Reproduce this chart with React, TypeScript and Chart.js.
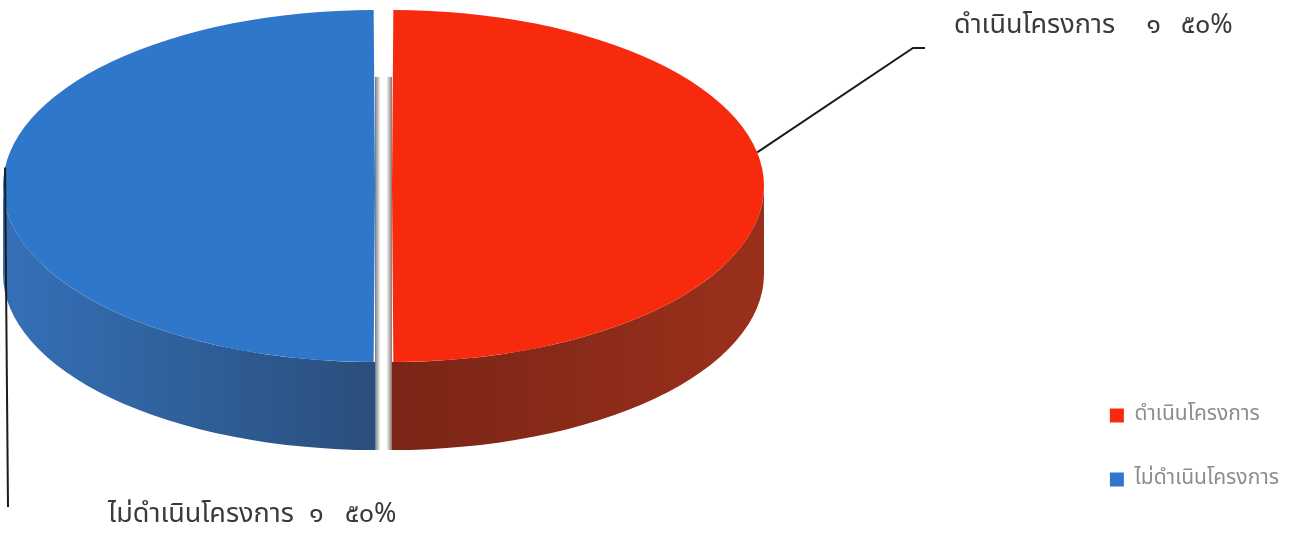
import React, { useEffect, useRef } from 'react';
import { Chart, registerables } from 'chart.js';

Chart.register(...registerables);

// ---- data ----
const categories = ['ดำเนินโครงการ', 'ไม่ดำเนินโครงการ'];
const projectCounts = [1, 1];

// ---- styles ----
const topColors = ['#F72A0D', '#2E77CA'];
const sideNearColors = ['#7A2516', '#2A4E7C'];
const sideFarColors = ['#9A301B', '#3570B8'];
const THAI_DIGITS = ['๐', '๑', '๒', '๓', '๔', '๕', '๖', '๗', '๘', '๙'];
const toThai = (n: number) => String(n).replace(/[0-9]/g, (d) => THAI_DIGITS[+d]);
const FONT = '"Noto Sans Thai", "Noto Sans Thai UI", Loma, Garuda, Sarabun, "DejaVu Sans", sans-serif';

// geometry of the tilted pie (px)
const PIE = { cx: 383.5, cy: 186, rx: 372, ry: 176, depth: 88, explode: 8.5 };

// outside label layout: anchor angle on the slice rim, leader bend points, text origin
const LABEL_LAYOUT = [
  { angle: -11, leader: [[913, 48], [925, 48]], textX: 954, textY: 28, gap1: 31, gap2: 20 },
  { angle: 186, leader: [[8, 507]], textX: 108, textY: 517, gap1: 15, gap2: 21 },
];

function sliceGeom(arc: any) {
  const p = arc.getProps(['startAngle', 'endAngle', 'outerRadius', 'circumference'], true);
  const o = (arc.options.offset || 0) / 4;
  const fix = 1 - Math.sin(Math.min(Math.PI, p.circumference || 0));
  const r = p.outerRadius + o * fix;
  const sy = PIE.ry / PIE.rx;
  const mid = (p.startAngle + p.endAngle) / 2;
  return {
    start: p.startAngle,
    end: p.endAngle,
    mid,
    ex: PIE.cx + Math.cos(mid) * o,
    ey: PIE.cy + Math.sin(mid) * o * sy,
    rX: r,
    rY: r * sy,
  };
}

const pie3d = {
  id: 'pie3d',
  beforeDatasetsDraw(chart: any) {
    const arcs = chart.getDatasetMeta(0).data;
    if (!arcs.length) return;
    const ctx = chart.ctx;
    const sy = PIE.ry / PIE.rx;
    arcs.forEach((arc: any, i: number) => {
      const g = sliceGeom(arc);
      const dir = Math.cos(g.mid) >= 0 ? 1 : -1;
      // inner cut-face shading in the gap
      const w = 6;
      ctx.save();
      const sg = ctx.createLinearGradient(g.ex, 0, g.ex - dir * w, 0);
      sg.addColorStop(0, i === 0 ? 'rgba(110,70,60,0.8)' : 'rgba(70,80,95,0.8)');
      sg.addColorStop(0.7, 'rgba(170,170,170,0.45)');
      sg.addColorStop(1, 'rgba(255,255,255,0)');
      ctx.fillStyle = sg;
      const top = g.ey - g.rY * 0.62;
      const bottom = g.ey + g.rY + PIE.depth;
      ctx.fillRect(Math.min(g.ex, g.ex - dir * w), top, w, bottom - top);
      ctx.restore();

      const grad = ctx.createLinearGradient(g.ex, 0, g.ex + Math.cos(g.mid) * g.rX, 0);
      grad.addColorStop(0, sideNearColors[i]);
      grad.addColorStop(1, sideFarColors[i]);
      for (let k = -1; k <= 1; k++) {
        const a = Math.max(g.start, 2 * Math.PI * k);
        const b = Math.min(g.end, 2 * Math.PI * k + Math.PI);
        if (b <= a) continue;
        ctx.save();
        ctx.beginPath();
        ctx.ellipse(g.ex, g.ey, g.rX, g.rY, 0, a, b, false);
        ctx.lineTo(g.ex + g.rX * Math.cos(b), g.ey + g.rY * Math.sin(b) + PIE.depth);
        ctx.ellipse(g.ex, g.ey + PIE.depth, g.rX, g.rY, 0, b, a, true);
        ctx.closePath();
        ctx.fillStyle = grad;
        ctx.fill();
        ctx.restore();
      }
    });
    ctx.save();
    ctx.translate(PIE.cx, PIE.cy);
    ctx.scale(1, sy);
    ctx.translate(-arcs[0].x, -arcs[0].y);
  },
  afterDatasetsDraw(chart: any) {
    chart.ctx.restore();
  },
  afterDraw(chart: any) {
    const arcs = chart.getDatasetMeta(0).data;
    const ctx = chart.ctx;
    const total = projectCounts.reduce((s, v) => s + v, 0);
    arcs.forEach((arc: any, i: number) => {
      const lay = LABEL_LAYOUT[i];
      if (!lay) return;
      const g = sliceGeom(arc);
      const t = (lay.angle * Math.PI) / 180;
      let x = g.ex + g.rX * Math.cos(t);
      let y = g.ey + g.rY * Math.sin(t);
      ctx.save();
      ctx.strokeStyle = '#1c1c1c';
      ctx.lineWidth = 2;
      ctx.beginPath();
      ctx.moveTo(x, y);
      lay.leader.forEach((pt: any) => {
        x = pt[0] == null ? x : pt[0];
        y = pt[1] == null ? y : pt[1];
        ctx.lineTo(x, y);
      });
      ctx.stroke();
      ctx.fillStyle = '#3a3a3a';
      ctx.font = `27px ${FONT}`;
      ctx.textBaseline = 'middle';
      ctx.textAlign = 'left';
      const parts = [
        categories[i],
        toThai(projectCounts[i]),
        toThai(Math.round((projectCounts[i] / total) * 100)) + '%',
      ];
      let tx = lay.textX;
      ctx.fillText(parts[0], tx, lay.textY);
      tx += ctx.measureText(parts[0]).width + lay.gap1;
      ctx.fillText(parts[1], tx, lay.textY);
      tx += ctx.measureText(parts[1]).width + lay.gap2;
      ctx.fillText(parts[2], tx, lay.textY);
      ctx.restore();
    });
  },
};

export default function App() {
  const ref = useRef<HTMLCanvasElement | null>(null);
  useEffect(() => {
    document.body.style.margin = '0';
    const chart = new Chart(ref.current as HTMLCanvasElement, {
      type: 'pie',
      data: {
        labels: categories,
        datasets: [
          {
            data: projectCounts,
            backgroundColor: topColors,
            borderWidth: 0,
            offset: PIE.explode * 4,
            clip: false as any,
          },
        ],
      },
      options: {
        animation: false,
        responsive: true,
        maintainAspectRatio: false,
        radius: PIE.rx - PIE.explode,
        layout: { padding: { right: 5, bottom: 0 } },
        plugins: {
          tooltip: { enabled: false },
          legend: {
            position: 'right',
            align: 'end',
            labels: {
              boxWidth: 14,
              boxHeight: 14,
              padding: 43,
              color: '#8c8c8c',
              font: { size: 21, family: FONT },
            },
          },
        },
      } as any,
      plugins: [pie3d],
    });
    return () => chart.destroy();
  }, []);
  return (
    <div style={{ width: 1294, height: 533, position: 'relative', background: '#fff' }}>
      <canvas ref={ref} />
    </div>
  );
}
